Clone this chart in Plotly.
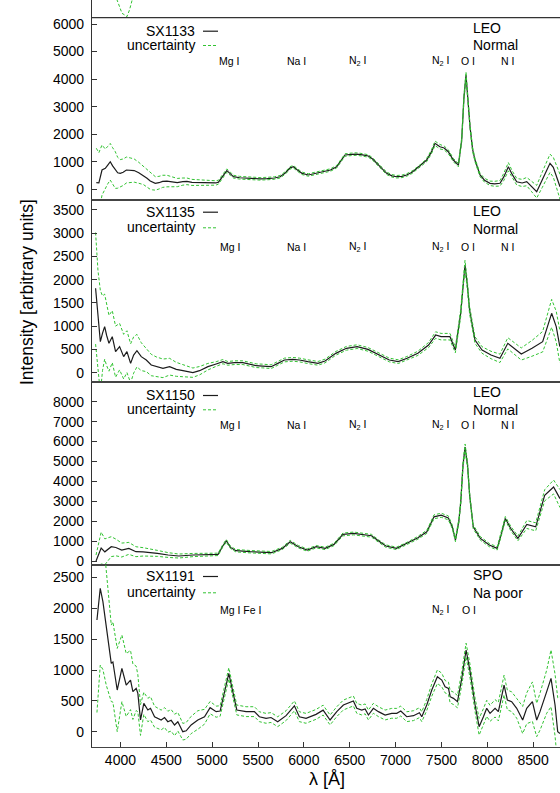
import plotly.graph_objects as go
from plotly.subplots import make_subplots

# ---------------- data ----------------
lam1 = [3737, 3765, 3799, 3835, 3862, 3889, 3915, 3944, 3970, 3998, 4030, 4065, 4107, 4150, 4200, 4252, 4290, 4325,
        4350, 4380, 4420, 4460, 4507, 4560, 4620, 4680, 4725, 4780, 4850, 4920, 4980, 5040, 5069, 5110, 5160, 5200,
        5232, 5300, 5380, 5450, 5523, 5600, 5680, 5741, 5800, 5850, 5886, 5930, 5980, 6050, 6130, 6213, 6290, 6358,
        6400, 6449, 6520, 6576, 6640, 6703, 6750, 6794, 6850, 6903, 6960, 7012, 7070, 7121, 7180, 7230, 7290, 7339,
        7390, 7430, 7460, 7484, 7530, 7575, 7630, 7685, 7721, 7745, 7768, 7790, 7812, 7840, 7866, 7921, 7970, 8030,
        8080, 8139, 8180, 8230, 8270, 8321, 8380, 8430, 8480, 8539, 8600, 8650, 8684, 8720, 8756, 8793]
val1 = [240, 230, 700, 760, 880, 1000, 850, 700, 600, 580, 620, 700, 690, 680, 600, 500, 400, 300,
        250, 215, 240, 290, 300, 270, 245, 280, 290, 250, 240, 230, 225, 230, 260, 450, 680, 560,
        460, 420, 400, 380, 380, 390, 410, 457, 600, 780, 820, 700, 580, 520, 580, 640, 700, 820,
        1000, 1245, 1270, 1280, 1250, 1210, 1100, 944, 750, 580, 490, 457, 470, 520, 620, 760, 900, 1063,
        1350, 1670, 1600, 1546, 1500, 1365, 1063, 880, 1790, 3300, 4149, 3200, 2272, 1450, 1063, 520, 330, 218,
        200, 218, 450, 820, 550, 276, 230, 280, 120, -87, 350, 700, 944, 800, 457, 95]
err1 = [1250, 1100, 910, 700, 680, 665, 660, 665, 560, 500, 480, 470, 450, 420, 380, 330, 320, 300,
        270, 245, 230, 220, 210, 180, 150, 130, 120, 110, 100, 100, 90, 80, 70, 60, 60, 60,
        50, 50, 45, 45, 45, 45, 45, 45, 45, 45, 45, 45, 45, 45, 45, 45, 45, 45,
        45, 45, 45, 45, 45, 45, 45, 45, 45, 45, 45, 45, 45, 45, 45, 45, 50, 60,
        70, 80, 80, 80, 70, 70, 60, 60, 80, 100, 110, 100, 80, 70, 60, 60, 70, 80,
        90, 100, 130, 150, 130, 120, 130, 150, 190, 230, 280, 310, 330, 360, 400, 450]

lam2 = [3729, 3755, 3781, 3805, 3828, 3850, 3875, 3911, 3947, 3991, 4035, 4071, 4111, 4144, 4180, 4227, 4282, 4336,
        4391, 4464, 4536, 4609, 4681, 4790, 4863, 4954, 5044, 5117, 5171, 5244, 5335, 5407, 5480, 5552, 5643, 5716,
        5789, 5879, 5952, 6043, 6154, 6231, 6348, 6464, 6581, 6699, 6815, 6932, 7029, 7126, 7243, 7360, 7437, 7496,
        7593, 7652, 7710, 7735, 7757, 7782, 7807, 7866, 7943, 8041, 8138, 8224, 8293, 8371, 8488, 8604, 8702, 8752, 8791]
val2 = [1815, 1150, 667, 850, 990, 800, 632, 775, 452, 560, 345, 452, 201, 380, 474, 345, 273, 165,
        129, 93, 129, 72, 43, 0, 43, 129, 187, 237, 201, 215, 215, 179, 150, 143, 129, 201,
        273, 287, 273, 237, 201, 251, 416, 524, 560, 502, 380, 273, 237, 309, 416, 595, 810, 775,
        775, 488, 1277, 1900, 2317, 1900, 1349, 703, 488, 380, 309, 632, 524, 402, 524, 667, 1277, 990, 560]
err2 = [1200, 1050, 1100, 800, 700, 650, 600, 560, 550, 500, 480, 450, 420, 390, 350, 300, 250, 230,
        210, 200, 180, 150, 130, 100, 90, 70, 50, 45, 40, 40, 40, 40, 40, 40, 40, 40,
        40, 40, 40, 40, 40, 40, 40, 40, 40, 40, 40, 40, 40, 40, 45, 55, 70, 70,
        70, 60, 80, 90, 100, 90, 80, 70, 70, 80, 90, 120, 120, 130, 170, 220, 300, 330, 350]

lam3 = [3734, 3790, 3830, 3900, 3950, 4014, 4092, 4169, 4247, 4325, 4403, 4520, 4636, 4792, 4948, 5065, 5111, 5154,
        5200, 5259, 5414, 5570, 5648, 5765, 5851, 5940, 6037, 6135, 6232, 6329, 6426, 6543, 6660, 6738, 6816, 6894,
        7010, 7127, 7244, 7341, 7419, 7497, 7575, 7620, 7653, 7690, 7711, 7735, 7758, 7785, 7808, 7847, 7925, 8022,
        8108, 8150, 8197, 8256, 8334, 8431, 8528, 8626, 8723, 8793]
val3 = [0, 650, 460, 720, 680, 550, 633, 467, 460, 433, 383, 300, 250, 300, 300, 333, 717, 1017,
        683, 517, 467, 433, 417, 633, 967, 717, 550, 717, 633, 833, 1333, 1383, 1333, 1267, 1000, 750,
        633, 883, 1167, 1467, 2217, 2300, 2167, 1700, 1050, 2000, 2967, 4800, 5717, 4800, 3300, 1717, 1133, 800,
        633, 1300, 2133, 1633, 1133, 1833, 1717, 3300, 3717, 3133]
err3 = [300, 800, 650, 500, 420, 350, 300, 250, 210, 180, 150, 120, 100, 80, 70, 60, 60, 70,
        60, 60, 60, 60, 60, 60, 70, 60, 60, 60, 60, 60, 70, 70, 70, 70, 60, 60,
        60, 60, 70, 80, 100, 100, 100, 90, 80, 100, 120, 150, 160, 150, 120, 100, 90, 80,
        80, 90, 100, 110, 120, 200, 200, 280, 350, 450]

lam4 = [3744, 3780, 3809, 3846, 3900, 3918, 3965, 4016, 4063, 4110, 4136, 4172, 4190, 4219, 4255, 4299, 4328, 4372,
        4408, 4444, 4481, 4517, 4553, 4590, 4626, 4680, 4717, 4771, 4844, 4917, 4978, 5044, 5087, 5135, 5182, 5225,
        5269, 5370, 5461, 5515, 5588, 5642, 5715, 5806, 5897, 5951, 6024, 6133, 6210, 6286, 6359, 6431, 6486, 6540,
        6577, 6631, 6668, 6704, 6758, 6813, 6886, 6958, 7013, 7057, 7122, 7195, 7260, 7286, 7340, 7395, 7456, 7504,
        7540, 7577, 7595, 7631, 7675, 7722, 7769, 7813, 7867, 7911, 7958, 7994, 8030, 8085, 8121, 8183, 8219, 8266,
        8321, 8386, 8430, 8492, 8539, 8575, 8648, 8695, 8739, 8768, 8793]
val4 = [1811, 2325, 2108, 1702, 1109, 1130, 676, 1028, 757, 838, 649, 703, 622, 190, 460, 352, 379, 243,
        217, 190, 230, 162, 185, 109, 162, 0, 14, 109, 190, 243, 390, 325, 335, 649, 946, 649,
        352, 325, 325, 243, 217, 230, 162, 260, 420, 243, 217, 281, 350, 190, 325, 433, 460, 498,
        379, 352, 370, 271, 379, 325, 271, 298, 298, 335, 243, 260, 308, 243, 433, 676, 892, 838,
        730, 703, 568, 541, 487, 865, 1325, 973, 433, 81, 243, 379, 298, 379, 325, 757, 514, 487,
        379, 190, 379, 487, 190, 325, 649, 865, 433, 0, -30]
err4 = [1500, 1244, 1100, 950, 620, 650, 675, 540, 510, 480, 450, 360, 300, 250, 180, 190, 190, 170,
        165, 160, 160, 170, 175, 175, 150, 135, 135, 140, 150, 120, 100, 90, 85, 90, 90, 85,
        80, 80, 80, 80, 80, 80, 80, 80, 80, 80, 80, 80, 80, 80, 80, 80, 80, 80,
        80, 80, 80, 80, 80, 80, 80, 80, 80, 80, 80, 80, 80, 80, 90, 100, 110, 110,
        100, 100, 100, 100, 100, 110, 110, 110, 110, 135, 130, 130, 130, 140, 150, 160, 160, 160,
        160, 220, 250, 320, 270, 300, 350, 460, 500, 550, 600]

# stray dashed segment of the (cropped) panel above
lam_spill = [3960, 3995, 4017, 4045, 4071, 4100, 4130]
val_spill = [6900, 6620, 6390, 6330, 6265, 6520, 6900]

names = ["SX1133", "SX1135", "SX1150", "SX1191"]
orbit = ["LEO", "LEO", "LEO", "SPO"]
kind = ["Normal", "Normal", "Normal", "Na poor"]
ytick_max = [6000, 3500, 8000, 2500]
ytick_step = [1000, 500, 1000, 500]
y_ranges = [[-388, 6871], [-207, 3715], [-201, 8974], [-248, 2703]]
line_labels = [
    [("Mg I", 5183), ("Na I", 5920), ("N<sub>2</sub> I", 6590), ("N<sub>2</sub> I", 7495), ("O I", 7795), ("N I", 8220)],
    [("Mg I", 5195), ("Na I", 5920), ("N<sub>2</sub> I", 6590), ("N<sub>2</sub> I", 7495), ("O I", 7795), ("N I", 8220)],
    [("Mg I", 5195), ("Na I", 5920), ("N<sub>2</sub> I", 6590), ("N<sub>2</sub> I", 7495), ("O I", 7795), ("N I", 8220)],
    [("Mg I Fe I", 5310), ("N<sub>2</sub> I", 7490), ("O I", 7800)],
]
x_ticks = [4000, 4500, 5000, 5500, 6000, 6500, 7000, 7500, 8000, 8500]
x_range = [3690, 8793]

# ---------------- layout geometry (pixels) ----------------
W, H = 560, 793
ML, MB = 92, 46
PW, PH = W - ML, H - MB


def fx(px):
    return (px - ML) / PW


def fy(py):
    return (PH - py) / PH


domains = [[fy(200), 1.0], [fy(382.3), fy(200)], [fy(565), fy(382.3)], [0.0, fy(565)]]
key_rows = [(30.7, 45.0, 27.7, 45.0, 60.7), (211.7, 227.3, 210.7, 229.0, 247.3),
            (395.0, 409.3, 392.3, 410.0, 425.0), (576.0, 592.3, 575.0, 593.3, 610.0)]

BLACK = "#1c1c1c"
GREEN = "rgb(50,195,50)"
FONT = "Liberation Sans, Arial, Helvetica, sans-serif"

fig = make_subplots(rows=4, cols=1, shared_xaxes=True, vertical_spacing=0)

data = [(lam1, val1, err1), (lam2, val2, err2), (lam3, val3, err3), (lam4, val4, err4)]
for i, (lam, val, err) in enumerate(data):
    r = i + 1
    up = [v + e for v, e in zip(val, err)]
    lo = [v - e for v, e in zip(val, err)]
    fig.add_trace(go.Scatter(x=lam, y=val, mode="lines", line=dict(color=BLACK, width=1.2),
                             showlegend=False, hoverinfo="skip"), row=r, col=1)
    for ys in (up, lo):
        fig.add_trace(go.Scatter(x=lam, y=ys, mode="lines",
                                 line=dict(color=GREEN, width=1, dash="3px,2px"),
                                 showlegend=False, hoverinfo="skip"), row=r, col=1)

fig.add_trace(go.Scatter(x=lam_spill, y=val_spill, mode="lines",
                         line=dict(color=GREEN, width=1, dash="3px,2px"),
                         showlegend=False, hoverinfo="skip"), row=1, col=1)

annotations = []
shapes = []
for i in range(4):
    ax = "" if i == 0 else str(i + 1)
    fig.layout["yaxis" + ax].update(
        domain=domains[i], range=y_ranges[i],
        tickvals=list(range(0, ytick_max[i] + 1, ytick_step[i])),
        ticks="inside", ticklen=5, tickcolor="#333", showline=True, linecolor="#333", linewidth=1.2,
        showgrid=False, zeroline=False, tickfont=dict(family=FONT, size=14, color="black"),
        ticklabelstandoff=4)
    fig.layout["xaxis" + ax].update(
        domain=[0, 1], range=x_range, showline=True, linecolor="#444", linewidth=1.3,
        mirror=(i != 0), showgrid=False, zeroline=False,
        showticklabels=(i == 3), ticks=("inside" if i == 3 else ""), ticklen=5, tickcolor="#333",
        tickvals=x_ticks, tickfont=dict(family=FONT, size=14, color="black"), ticklabelstandoff=0)

    sy, uy, oy, ky, ly = key_rows[i]
    annotations.append(dict(xref="paper", yref="paper", x=fx(197), y=fy(sy), text=names[i],
                            showarrow=False, xanchor="right", yanchor="middle",
                            font=dict(family=FONT, size=14, color="black")))
    annotations.append(dict(xref="paper", yref="paper", x=fx(197), y=fy(uy), text="uncertainty",
                            showarrow=False, xanchor="right", yanchor="middle",
                            font=dict(family=FONT, size=14, color="black")))
    shapes.append(dict(type="line", xref="paper", yref="paper", x0=fx(203), x1=fx(218),
                       y0=fy(sy + 0.5), y1=fy(sy + 0.5), line=dict(color=BLACK, width=1.2)))
    shapes.append(dict(type="line", xref="paper", yref="paper", x0=fx(203), x1=fx(218),
                       y0=fy(uy + 0.5), y1=fy(uy + 0.5), line=dict(color=GREEN, width=1, dash="3px,2px")))
    annotations.append(dict(xref="paper", yref="paper", x=fx(471), y=fy(oy), text=orbit[i],
                            showarrow=False, xanchor="left", yanchor="middle",
                            font=dict(family=FONT, size=14, color="black")))
    annotations.append(dict(xref="paper", yref="paper", x=fx(471), y=fy(ky), text=kind[i],
                            showarrow=False, xanchor="left", yanchor="middle",
                            font=dict(family=FONT, size=14, color="black")))
    for txt, lx in line_labels[i]:
        annotations.append(dict(xref="x" + ax, yref="paper", x=lx, y=fy(ly), text=txt,
                                showarrow=False, xanchor="center", yanchor="middle",
                                font=dict(family=FONT, size=10.5, color="black")))

# top border of the first panel
shapes.append(dict(type="line", xref="paper", yref="paper", x0=0, x1=1, y0=fy(17.7), y1=fy(17.7),
                   line=dict(color="#333", width=1.2)))

annotations.append(dict(xref="paper", yref="paper", x=fx(27), y=fy(292), text="Intensity [arbitrary units]",
                        textangle=-90, showarrow=False, xanchor="center", yanchor="middle",
                        font=dict(family=FONT, size=17.5, color="black")))
annotations.append(dict(xref="paper", yref="paper", x=fx(327), y=fy(779), text="λ [Å]",
                        showarrow=False, xanchor="center", yanchor="middle",
                        font=dict(family=FONT, size=18, color="black")))

fig.update_layout(width=W, height=H, margin=dict(l=ML, r=0, t=0, b=MB, autoexpand=False),
                  plot_bgcolor="white", paper_bgcolor="white",
                  annotations=annotations, shapes=shapes, showlegend=False)

fig.write_html("out.html", config={"displayModeBar": False},
               post_script="document.body.style.margin='0px';document.body.style.overflow='hidden';")
